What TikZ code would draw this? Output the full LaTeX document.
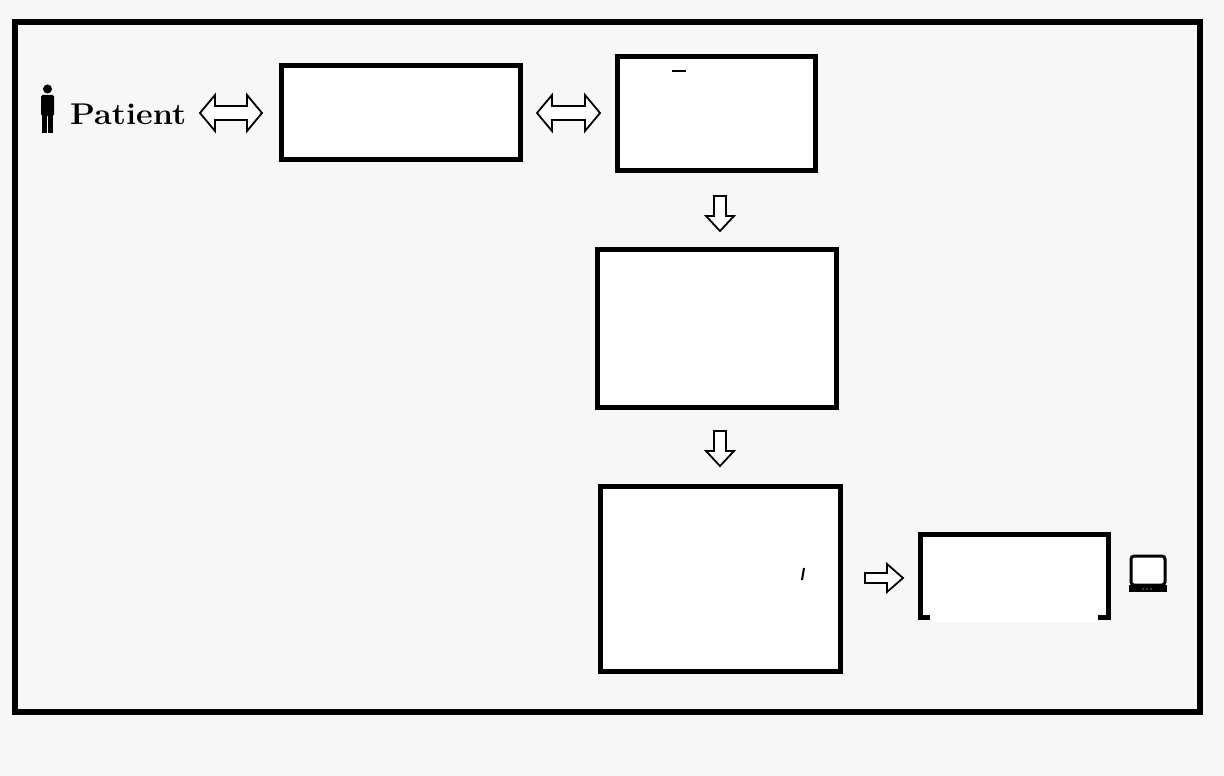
\documentclass[tikz,border=0pt]{standalone}
\begin{document}
\begin{tikzpicture}[x=1pt,y=-1pt,
  box/.style={draw=black,line width=5pt,fill=white},
  harrow/.style={draw=black,line width=1.8pt,fill=white,line join=miter}]
\useasboundingbox (0,0) rectangle (1224,776);
\fill[white!97!black] (0,0) rectangle (1224,776);
\draw[line width=6pt,fill=white!97!black] (15,22) rectangle (1200,712);
\node[box,minimum width=239pt,minimum height=93pt] (b1) at (400.5,112.5) {};
\node[box,minimum width=198pt,minimum height=113pt] (b2) at (716,113.5) {};
\node[box,minimum width=239pt,minimum height=158pt] (b3) at (716.5,328) {};
\node[box,minimum width=240pt,minimum height=185pt] (b4) at (720,578.5) {};
\node[box,minimum width=188pt,minimum height=83pt] (b5) at (1014,575.5) {};
\fill[white] (930,612) rectangle (1098,622);
% double arrows
\draw[harrow] (200,113) -- (215,95) -- (215,106) -- (247,106) -- (247,95) -- (262,113) -- (247,131) -- (247,120) -- (215,120) -- (215,131) -- cycle;
\draw[harrow] (537,113) -- (552,95) -- (552,106) -- (585,106) -- (585,95) -- (600,113) -- (585,131) -- (585,120) -- (552,120) -- (552,131) -- cycle;
% down arrows
\draw[harrow] (714,196) -- (726,196) -- (726,216) -- (734,216) -- (720,231) -- (706,216) -- (714,216) -- cycle;
\draw[harrow] (714,431) -- (726,431) -- (726,451) -- (734,451) -- (720,466) -- (706,451) -- (714,451) -- cycle;
% right arrow
\draw[harrow] (865,573) -- (887,573) -- (887,564) -- (903,578) -- (887,592) -- (887,583) -- (865,583) -- cycle;
% person
\fill (47.5,89) circle (4.5);
\fill[rounded corners=1.5pt] (41,95) rectangle (54,116);
\fill (42,112) rectangle (47,133);
\fill (48,112) rectangle (53,133);
\node[font=\fontsize{30}{32}\selectfont\bfseries,anchor=west,inner sep=0pt,xscale=1.08] (pt) at (70,114) {Patient};
% TV
\draw[line width=3pt,rounded corners=3pt,fill=white] (1131,556) rectangle (1165,585);
\fill (1129,585) rectangle (1167,592);
\fill[white] (1143,589) circle(0.6) (1147,589) circle(0.6) (1151,589) circle(0.6);
% small marks
\draw[line width=1.5pt] (672,71) -- (686,71);
\draw[line width=2pt] (804,568) -- (802,580);
\end{tikzpicture}
\end{document}
